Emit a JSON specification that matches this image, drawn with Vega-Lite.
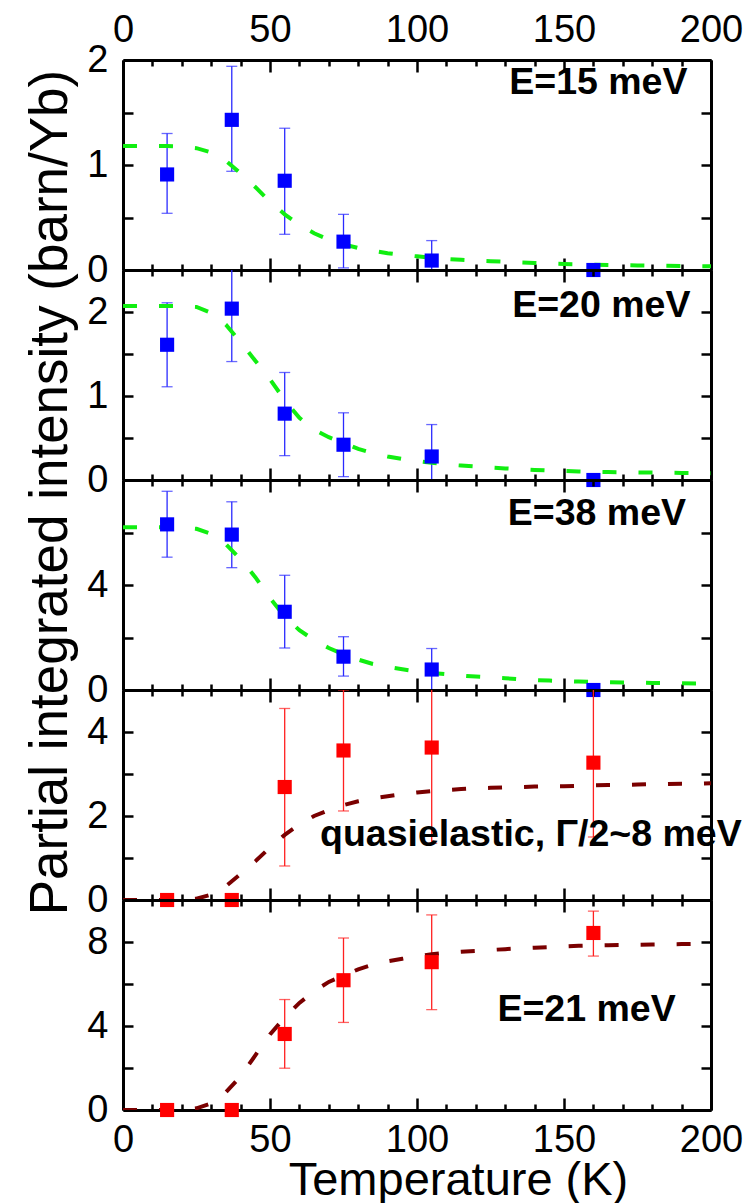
{
"$schema": "https://vega.github.io/schema/vega-lite/v6.json",
"padding": {"left": 23, "top": 5, "right": 0, "bottom": 0},
"spacing": 0,
"bounds": "flush",
"config": {
  "font": "Liberation Sans",
  "view": {"stroke": null},
  "axis": {"domainColor": "black", "domainWidth": 3, "tickColor": "black", "tickWidth": 2.5, "grid": false,
           "labelFontSize": 38, "labelColor": "black", "labelFlush": false, "labelOverlap": false,
           "titleColor": "black", "titleFontWeight": "normal", "labelFont": "Liberation Sans", "titleFont": "Liberation Sans"}
},
"datasets": {
"pts": [
 {"p":1,"T":15,"I":0.91,"lo":0.54,"hi":1.3},{"p":1,"T":37,"I":1.43,"lo":0.94,"hi":1.94},{"p":1,"T":55,"I":0.85,"lo":0.34,"hi":1.35},{"p":1,"T":75,"I":0.27,"lo":0.02,"hi":0.53},{"p":1,"T":105,"I":0.09,"lo":-0.1,"hi":0.28},{"p":1,"T":160,"I":0.0},
 {"p":2,"T":15,"I":1.61,"lo":1.11,"hi":2.11},{"p":2,"T":37,"I":2.04,"lo":1.41,"hi":2.67},{"p":2,"T":55,"I":0.79,"lo":0.29,"hi":1.28},{"p":2,"T":75,"I":0.42,"lo":0.04,"hi":0.8},{"p":2,"T":105,"I":0.28,"lo":-0.11,"hi":0.66},{"p":2,"T":160,"I":0.0},
 {"p":3,"T":15,"I":6.31,"lo":5.06,"hi":7.57},{"p":3,"T":37,"I":5.92,"lo":4.66,"hi":7.17},{"p":3,"T":55,"I":2.98,"lo":1.6,"hi":4.37},{"p":3,"T":75,"I":1.27,"lo":0.53,"hi":2.03},{"p":3,"T":105,"I":0.78,"lo":-0.02,"hi":1.58},{"p":3,"T":160,"I":0.0},
 {"p":4,"T":15,"I":0.0},{"p":4,"T":37,"I":0.0},{"p":4,"T":55,"I":2.69,"lo":0.81,"hi":4.56},{"p":4,"T":75,"I":3.56,"lo":2.12,"hi":5.0},{"p":4,"T":105,"I":3.63,"lo":1.35,"hi":5.9},{"p":4,"T":160,"I":3.27,"lo":1.5,"hi":5.04},
 {"p":5,"T":15,"I":0.0},{"p":5,"T":37,"I":0.0},{"p":5,"T":55,"I":3.62,"lo":1.99,"hi":5.26},{"p":5,"T":75,"I":6.18,"lo":4.17,"hi":8.19},{"p":5,"T":105,"I":7.04,"lo":4.78,"hi":9.29},{"p":5,"T":160,"I":8.43,"lo":7.33,"hi":9.47}
],
"fit": [
 {"p":1,"T":0,"v":1.18},{"p":1,"T":5,"v":1.18},{"p":1,"T":10,"v":1.18},{"p":1,"T":15,"v":1.18},{"p":1,"T":20,"v":1.175},{"p":1,"T":25,"v":1.16},{"p":1,"T":30,"v":1.12},{"p":1,"T":35,"v":1.04},{"p":1,"T":40,"v":0.92},{"p":1,"T":45,"v":0.79},{"p":1,"T":50,"v":0.65},{"p":1,"T":55,"v":0.53},{"p":1,"T":60,"v":0.43},{"p":1,"T":65,"v":0.35},{"p":1,"T":70,"v":0.29},{"p":1,"T":75,"v":0.245},{"p":1,"T":80,"v":0.21},{"p":1,"T":85,"v":0.183},{"p":1,"T":90,"v":0.16},{"p":1,"T":95,"v":0.143},{"p":1,"T":100,"v":0.13},{"p":1,"T":105,"v":0.117},{"p":1,"T":110,"v":0.106},{"p":1,"T":115,"v":0.097},{"p":1,"T":120,"v":0.09},{"p":1,"T":125,"v":0.084},{"p":1,"T":130,"v":0.079},{"p":1,"T":135,"v":0.073},{"p":1,"T":140,"v":0.067},{"p":1,"T":145,"v":0.062},{"p":1,"T":150,"v":0.057},{"p":1,"T":155,"v":0.054},{"p":1,"T":160,"v":0.051},{"p":1,"T":165,"v":0.048},{"p":1,"T":170,"v":0.046},{"p":1,"T":175,"v":0.044},{"p":1,"T":180,"v":0.042},{"p":1,"T":185,"v":0.04},{"p":1,"T":190,"v":0.038},{"p":1,"T":195,"v":0.037},{"p":1,"T":200,"v":0.036},
 {"p":2,"T":0,"v":2.07},{"p":2,"T":5,"v":2.07},{"p":2,"T":10,"v":2.07},{"p":2,"T":15,"v":2.07},{"p":2,"T":20,"v":2.07},{"p":2,"T":25,"v":2.06},{"p":2,"T":30,"v":1.99},{"p":2,"T":35,"v":1.85},{"p":2,"T":40,"v":1.64},{"p":2,"T":45,"v":1.42},{"p":2,"T":50,"v":1.2},{"p":2,"T":55,"v":0.95},{"p":2,"T":60,"v":0.74},{"p":2,"T":65,"v":0.6},{"p":2,"T":70,"v":0.51},{"p":2,"T":75,"v":0.44},{"p":2,"T":80,"v":0.37},{"p":2,"T":85,"v":0.32},{"p":2,"T":90,"v":0.28},{"p":2,"T":95,"v":0.25},{"p":2,"T":100,"v":0.225},{"p":2,"T":105,"v":0.205},{"p":2,"T":110,"v":0.185},{"p":2,"T":115,"v":0.172},{"p":2,"T":120,"v":0.16},{"p":2,"T":125,"v":0.148},{"p":2,"T":130,"v":0.138},{"p":2,"T":135,"v":0.128},{"p":2,"T":140,"v":0.12},{"p":2,"T":145,"v":0.113},{"p":2,"T":150,"v":0.107},{"p":2,"T":155,"v":0.102},{"p":2,"T":160,"v":0.098},{"p":2,"T":165,"v":0.095},{"p":2,"T":170,"v":0.092},{"p":2,"T":175,"v":0.09},{"p":2,"T":180,"v":0.088},{"p":2,"T":185,"v":0.086},{"p":2,"T":190,"v":0.084},{"p":2,"T":195,"v":0.082},{"p":2,"T":200,"v":0.08},
 {"p":3,"T":0,"v":6.2},{"p":3,"T":5,"v":6.2},{"p":3,"T":10,"v":6.2},{"p":3,"T":15,"v":6.2},{"p":3,"T":20,"v":6.19},{"p":3,"T":25,"v":6.14},{"p":3,"T":30,"v":5.95},{"p":3,"T":35,"v":5.55},{"p":3,"T":40,"v":4.98},{"p":3,"T":45,"v":4.3},{"p":3,"T":50,"v":3.5},{"p":3,"T":55,"v":2.8},{"p":3,"T":60,"v":2.28},{"p":3,"T":65,"v":1.9},{"p":3,"T":70,"v":1.6},{"p":3,"T":75,"v":1.36},{"p":3,"T":80,"v":1.16},{"p":3,"T":85,"v":0.99},{"p":3,"T":90,"v":0.88},{"p":3,"T":95,"v":0.79},{"p":3,"T":100,"v":0.71},{"p":3,"T":105,"v":0.65},{"p":3,"T":110,"v":0.6},{"p":3,"T":115,"v":0.55},{"p":3,"T":120,"v":0.51},{"p":3,"T":125,"v":0.48},{"p":3,"T":130,"v":0.45},{"p":3,"T":135,"v":0.41},{"p":3,"T":140,"v":0.38},{"p":3,"T":145,"v":0.36},{"p":3,"T":150,"v":0.34},{"p":3,"T":155,"v":0.32},{"p":3,"T":160,"v":0.31},{"p":3,"T":165,"v":0.3},{"p":3,"T":170,"v":0.29},{"p":3,"T":175,"v":0.28},{"p":3,"T":180,"v":0.27},{"p":3,"T":185,"v":0.265},{"p":3,"T":190,"v":0.26},{"p":3,"T":195,"v":0.25},{"p":3,"T":200,"v":0.24},
 {"p":4,"T":0,"v":0},{"p":4,"T":5,"v":0},{"p":4,"T":10,"v":0},{"p":4,"T":15,"v":0},{"p":4,"T":20,"v":0.01},{"p":4,"T":25,"v":0.03},{"p":4,"T":30,"v":0.13},{"p":4,"T":35,"v":0.33},{"p":4,"T":40,"v":0.62},{"p":4,"T":45,"v":0.92},{"p":4,"T":50,"v":1.25},{"p":4,"T":55,"v":1.55},{"p":4,"T":60,"v":1.8},{"p":4,"T":65,"v":2.0},{"p":4,"T":70,"v":2.14},{"p":4,"T":75,"v":2.26},{"p":4,"T":80,"v":2.35},{"p":4,"T":85,"v":2.42},{"p":4,"T":90,"v":2.47},{"p":4,"T":95,"v":2.52},{"p":4,"T":100,"v":2.56},{"p":4,"T":105,"v":2.59},{"p":4,"T":110,"v":2.62},{"p":4,"T":115,"v":2.64},{"p":4,"T":120,"v":2.66},{"p":4,"T":125,"v":2.67},{"p":4,"T":130,"v":2.68},{"p":4,"T":135,"v":2.69},{"p":4,"T":140,"v":2.7},{"p":4,"T":145,"v":2.71},{"p":4,"T":150,"v":2.71},{"p":4,"T":155,"v":2.72},{"p":4,"T":160,"v":2.73},{"p":4,"T":165,"v":2.74},{"p":4,"T":170,"v":2.74},{"p":4,"T":175,"v":2.75},{"p":4,"T":180,"v":2.76},{"p":4,"T":185,"v":2.76},{"p":4,"T":190,"v":2.77},{"p":4,"T":195,"v":2.77},{"p":4,"T":200,"v":2.78},
 {"p":5,"T":0,"v":0},{"p":5,"T":5,"v":0},{"p":5,"T":10,"v":0},{"p":5,"T":15,"v":0},{"p":5,"T":20,"v":0.01},{"p":5,"T":25,"v":0.08},{"p":5,"T":30,"v":0.32},{"p":5,"T":35,"v":0.85},{"p":5,"T":40,"v":1.6},{"p":5,"T":45,"v":2.6},{"p":5,"T":50,"v":3.6},{"p":5,"T":55,"v":4.4},{"p":5,"T":60,"v":5.1},{"p":5,"T":65,"v":5.65},{"p":5,"T":70,"v":6.1},{"p":5,"T":75,"v":6.4},{"p":5,"T":80,"v":6.7},{"p":5,"T":85,"v":6.92},{"p":5,"T":90,"v":7.08},{"p":5,"T":95,"v":7.2},{"p":5,"T":100,"v":7.32},{"p":5,"T":105,"v":7.42},{"p":5,"T":110,"v":7.49},{"p":5,"T":115,"v":7.54},{"p":5,"T":120,"v":7.58},{"p":5,"T":125,"v":7.62},{"p":5,"T":130,"v":7.66},{"p":5,"T":135,"v":7.7},{"p":5,"T":140,"v":7.73},{"p":5,"T":145,"v":7.76},{"p":5,"T":150,"v":7.79},{"p":5,"T":155,"v":7.82},{"p":5,"T":160,"v":7.84},{"p":5,"T":165,"v":7.85},{"p":5,"T":170,"v":7.86},{"p":5,"T":175,"v":7.87},{"p":5,"T":180,"v":7.88},{"p":5,"T":185,"v":7.89},{"p":5,"T":190,"v":7.9},{"p":5,"T":195,"v":7.91},{"p":5,"T":200,"v":7.92}
]
},
"vconcat": [
{
 "width": 588, "height": 210,
 "layer": [
  {"data": {"name": "pts"}, "transform": [{"filter": "datum.p === 1 && isValid(datum.lo)"}],
   "mark": {"type": "rule", "clip": true, "color": "#2a2aff", "strokeWidth": 1.3},
   "encoding": {
    "x": {"field": "T", "type": "quantitative", "scale": {"domain": [0, 200], "nice": false}, "axis": {"orient": "bottom", "values": [0,10,20,30,40,50,60,70,80,90,100,110,120,130,140,150,160,170,180,190,200], "labels": false, "title": null, "tickSize": {"condition": {"test": "datum.value % 50 === 0", "value": -12}, "value": -6}}},
    "y": {"field": "lo", "type": "quantitative", "scale": {"domain": [0, 2], "nice": false}, "axis": {"orient": "left", "values": [0,0.5,1,1.5,2], "labelExpr": "datum.value % 1 === 0 ? format(datum.value, 'd') : ''", "tickSize": -10, "labelPadding": 25, "title": null}},
    "y2": {"field": "hi"}}},
  {"data": {"name": "pts"}, "transform": [{"filter": "datum.p === 1 && isValid(datum.lo)"}],
   "mark": {"type": "tick", "orient": "horizontal", "clip": true, "color": "#2a2aff", "size": 11, "thickness": 1.3},
   "encoding": {"x": {"field": "T", "type": "quantitative", "axis": null}, "y": {"field": "lo", "type": "quantitative", "axis": null}}},
  {"data": {"name": "pts"}, "transform": [{"filter": "datum.p === 1 && isValid(datum.lo)"}],
   "mark": {"type": "tick", "orient": "horizontal", "clip": true, "color": "#2a2aff", "size": 11, "thickness": 1.3},
   "encoding": {"x": {"field": "T", "type": "quantitative", "axis": null}, "y": {"field": "hi", "type": "quantitative", "axis": null}}},
  {"data": {"name": "fit"}, "transform": [{"filter": "datum.p === 1"}],
   "mark": {"type": "line", "color": "#11ee11", "strokeWidth": 4, "strokeDash": [14, 22], "clip": true},
   "encoding": {"x": {"field": "T", "type": "quantitative", "axis": null}, "y": {"field": "v", "type": "quantitative", "axis": null}}},
  {"data": {"name": "pts"}, "transform": [{"filter": "datum.p === 1"}],
   "mark": {"type": "square", "color": "#0000ff", "size": 200, "opacity": 1, "filled": true},
   "encoding": {
    "x": {"field": "T", "type": "quantitative", "axis": {"orient": "top", "values": [0,10,20,30,40,50,60,70,80,90,100,110,120,130,140,150,160,170,180,190,200], "labelExpr": "datum.value % 50 === 0 ? datum.label : ''", "labelPadding": 23, "title": null, "tickSize": {"condition": {"test": "datum.value % 50 === 0", "value": -12}, "value": -6}}},
    "y": {"field": "I", "type": "quantitative", "axis": {"orient": "right", "values": [0,0.5,1,1.5,2], "labels": false, "tickSize": -10, "title": null}}}},
  {"data": {"values": [{"label": "E=15 meV"}]},
   "mark": {"type": "text", "align": "right", "baseline": "alphabetic", "fontSize": 37.5, "fontWeight": "bold", "font": "Liberation Sans", "color": "black"},
   "encoding": {"x": {"datum": 192, "type": "quantitative", "axis": null}, "y": {"datum": 1.68, "type": "quantitative", "axis": null}, "text": {"field": "label"}}}
 ]
},
{
 "width": 588, "height": 210,
 "layer": [
  {"data": {"name": "pts"}, "transform": [{"filter": "datum.p === 2 && isValid(datum.lo)"}],
   "mark": {"type": "rule", "clip": true, "color": "#2a2aff", "strokeWidth": 1.3},
   "encoding": {
    "x": {"field": "T", "type": "quantitative", "scale": {"domain": [0, 200], "nice": false}, "axis": {"orient": "bottom", "values": [0,10,20,30,40,50,60,70,80,90,100,110,120,130,140,150,160,170,180,190,200], "labels": false, "title": null, "tickSize": {"condition": {"test": "datum.value % 50 === 0", "value": -12}, "value": -6}}},
    "y": {"field": "lo", "type": "quantitative", "scale": {"domain": [0, 2.5], "nice": false}, "axis": {"orient": "left", "values": [0,0.5,1,1.5,2,2.5], "labelExpr": "datum.value % 1 === 0 ? format(datum.value, 'd') : ''", "tickSize": -10, "labelPadding": 25, "title": null}},
    "y2": {"field": "hi"}}},
  {"data": {"name": "pts"}, "transform": [{"filter": "datum.p === 2 && isValid(datum.lo)"}],
   "mark": {"type": "tick", "orient": "horizontal", "clip": true, "color": "#2a2aff", "size": 11, "thickness": 1.3},
   "encoding": {"x": {"field": "T", "type": "quantitative", "axis": null}, "y": {"field": "lo", "type": "quantitative", "axis": null}}},
  {"data": {"name": "pts"}, "transform": [{"filter": "datum.p === 2 && isValid(datum.lo)"}],
   "mark": {"type": "tick", "orient": "horizontal", "clip": true, "color": "#2a2aff", "size": 11, "thickness": 1.3},
   "encoding": {"x": {"field": "T", "type": "quantitative", "axis": null}, "y": {"field": "hi", "type": "quantitative", "axis": null}}},
  {"data": {"name": "fit"}, "transform": [{"filter": "datum.p === 2"}],
   "mark": {"type": "line", "color": "#11ee11", "strokeWidth": 4, "strokeDash": [14, 22], "clip": true},
   "encoding": {"x": {"field": "T", "type": "quantitative", "axis": null}, "y": {"field": "v", "type": "quantitative", "axis": null}}},
  {"data": {"name": "pts"}, "transform": [{"filter": "datum.p === 2"}],
   "mark": {"type": "square", "color": "#0000ff", "size": 200, "opacity": 1, "filled": true},
   "encoding": {
    "x": {"field": "T", "type": "quantitative", "axis": {"orient": "top", "values": [0,10,20,30,40,50,60,70,80,90,100,110,120,130,140,150,160,170,180,190,200], "labels": false, "title": null, "tickSize": {"condition": {"test": "datum.value % 50 === 0", "value": -12}, "value": -6}}},
    "y": {"field": "I", "type": "quantitative", "axis": {"orient": "right", "values": [0,0.5,1,1.5,2,2.5], "labels": false, "tickSize": -10, "title": null}}}},
  {"data": {"values": [{"label": "E=20 meV"}]},
   "mark": {"type": "text", "align": "right", "baseline": "alphabetic", "fontSize": 37.5, "fontWeight": "bold", "font": "Liberation Sans", "color": "black"},
   "encoding": {"x": {"datum": 193, "type": "quantitative", "axis": null}, "y": {"datum": 1.94, "type": "quantitative", "axis": null}, "text": {"field": "label"}}}
 ]
},
{
 "width": 588, "height": 210,
 "layer": [
  {"data": {"name": "pts"}, "transform": [{"filter": "datum.p === 3 && isValid(datum.lo)"}],
   "mark": {"type": "rule", "clip": true, "color": "#2a2aff", "strokeWidth": 1.3},
   "encoding": {
    "x": {"field": "T", "type": "quantitative", "scale": {"domain": [0, 200], "nice": false}, "axis": {"orient": "bottom", "values": [0,10,20,30,40,50,60,70,80,90,100,110,120,130,140,150,160,170,180,190,200], "labels": false, "title": null, "tickSize": {"condition": {"test": "datum.value % 50 === 0", "value": -12}, "value": -6}}},
    "y": {"field": "lo", "type": "quantitative", "scale": {"domain": [0, 8], "nice": false}, "axis": {"orient": "left", "values": [0,2,4,6,8], "labelExpr": "datum.value === 0 || datum.value === 4 ? datum.label : ''", "tickSize": -10, "labelPadding": 25,
      "title": "Partial integrated intensity (barn/Yb)", "titleFontSize": 53, "titleX": -57, "titleY": 12, "titleAlign": "center", "titleBaseline": "alphabetic", "titleAngle": 270}},
    "y2": {"field": "hi"}}},
  {"data": {"name": "pts"}, "transform": [{"filter": "datum.p === 3 && isValid(datum.lo)"}],
   "mark": {"type": "tick", "orient": "horizontal", "clip": true, "color": "#2a2aff", "size": 11, "thickness": 1.3},
   "encoding": {"x": {"field": "T", "type": "quantitative", "axis": null}, "y": {"field": "lo", "type": "quantitative", "axis": null}}},
  {"data": {"name": "pts"}, "transform": [{"filter": "datum.p === 3 && isValid(datum.lo)"}],
   "mark": {"type": "tick", "orient": "horizontal", "clip": true, "color": "#2a2aff", "size": 11, "thickness": 1.3},
   "encoding": {"x": {"field": "T", "type": "quantitative", "axis": null}, "y": {"field": "hi", "type": "quantitative", "axis": null}}},
  {"data": {"name": "fit"}, "transform": [{"filter": "datum.p === 3"}],
   "mark": {"type": "line", "color": "#11ee11", "strokeWidth": 4, "strokeDash": [14, 22], "clip": true},
   "encoding": {"x": {"field": "T", "type": "quantitative", "axis": null}, "y": {"field": "v", "type": "quantitative", "axis": null}}},
  {"data": {"name": "pts"}, "transform": [{"filter": "datum.p === 3"}],
   "mark": {"type": "square", "color": "#0000ff", "size": 200, "opacity": 1, "filled": true},
   "encoding": {
    "x": {"field": "T", "type": "quantitative", "axis": {"orient": "top", "values": [0,10,20,30,40,50,60,70,80,90,100,110,120,130,140,150,160,170,180,190,200], "labels": false, "title": null, "tickSize": {"condition": {"test": "datum.value % 50 === 0", "value": -12}, "value": -6}}},
    "y": {"field": "I", "type": "quantitative", "axis": {"orient": "right", "values": [0,2,4,6,8], "labels": false, "tickSize": -10, "title": null}}}},
  {"data": {"values": [{"label": "E=38 meV"}]},
   "mark": {"type": "text", "align": "right", "baseline": "alphabetic", "fontSize": 37.5, "fontWeight": "bold", "font": "Liberation Sans", "color": "black"},
   "encoding": {"x": {"datum": 191.5, "type": "quantitative", "axis": null}, "y": {"datum": 6.27, "type": "quantitative", "axis": null}, "text": {"field": "label"}}}
 ]
},
{
 "width": 588, "height": 210,
 "layer": [
  {"data": {"name": "pts"}, "transform": [{"filter": "datum.p === 4 && isValid(datum.lo)"}],
   "mark": {"type": "rule", "clip": true, "color": "#ff2020", "strokeWidth": 1.3},
   "encoding": {
    "x": {"field": "T", "type": "quantitative", "scale": {"domain": [0, 200], "nice": false}, "axis": {"orient": "bottom", "values": [0,10,20,30,40,50,60,70,80,90,100,110,120,130,140,150,160,170,180,190,200], "labels": false, "title": null, "tickSize": {"condition": {"test": "datum.value % 50 === 0", "value": -12}, "value": -6}}},
    "y": {"field": "lo", "type": "quantitative", "scale": {"domain": [0, 5], "nice": false}, "axis": {"orient": "left", "values": [0,1,2,3,4,5], "labelExpr": "datum.value % 2 === 0 ? datum.label : ''", "tickSize": -10, "labelPadding": 25, "title": null}},
    "y2": {"field": "hi"}}},
  {"data": {"name": "pts"}, "transform": [{"filter": "datum.p === 4 && isValid(datum.lo)"}],
   "mark": {"type": "tick", "orient": "horizontal", "clip": true, "color": "#ff2020", "size": 11, "thickness": 1.3},
   "encoding": {"x": {"field": "T", "type": "quantitative", "axis": null}, "y": {"field": "lo", "type": "quantitative", "axis": null}}},
  {"data": {"name": "pts"}, "transform": [{"filter": "datum.p === 4 && isValid(datum.lo)"}],
   "mark": {"type": "tick", "orient": "horizontal", "clip": true, "color": "#ff2020", "size": 11, "thickness": 1.3},
   "encoding": {"x": {"field": "T", "type": "quantitative", "axis": null}, "y": {"field": "hi", "type": "quantitative", "axis": null}}},
  {"data": {"name": "fit"}, "transform": [{"filter": "datum.p === 4"}],
   "mark": {"type": "line", "color": "#7a0000", "strokeWidth": 4, "strokeDash": [14, 22], "clip": true},
   "encoding": {"x": {"field": "T", "type": "quantitative", "axis": null}, "y": {"field": "v", "type": "quantitative", "axis": null}}},
  {"data": {"name": "pts"}, "transform": [{"filter": "datum.p === 4"}],
   "mark": {"type": "square", "color": "#ff0000", "size": 200, "opacity": 1, "filled": true},
   "encoding": {
    "x": {"field": "T", "type": "quantitative", "axis": {"orient": "top", "values": [0,10,20,30,40,50,60,70,80,90,100,110,120,130,140,150,160,170,180,190,200], "labels": false, "title": null, "tickSize": {"condition": {"test": "datum.value % 50 === 0", "value": -12}, "value": -6}}},
    "y": {"field": "I", "type": "quantitative", "axis": {"orient": "right", "values": [0,1,2,3,4,5], "labels": false, "tickSize": -10, "title": null}}}},
  {"data": {"values": [{"label": "quasielastic, Γ/2~8 meV"}]},
   "mark": {"type": "text", "align": "left", "baseline": "alphabetic", "fontSize": 37.5, "fontWeight": "bold", "font": "Liberation Sans", "color": "black"},
   "encoding": {"x": {"datum": 67, "type": "quantitative", "axis": null}, "y": {"datum": 1.29, "type": "quantitative", "axis": null}, "text": {"field": "label"}}}
 ]
},
{
 "width": 588, "height": 210,
 "layer": [
  {"data": {"name": "pts"}, "transform": [{"filter": "datum.p === 5 && isValid(datum.lo)"}],
   "mark": {"type": "rule", "clip": true, "color": "#ff2020", "strokeWidth": 1.3},
   "encoding": {
    "x": {"field": "T", "type": "quantitative", "scale": {"domain": [0, 200], "nice": false}, "axis": {"orient": "bottom", "values": [0,10,20,30,40,50,60,70,80,90,100,110,120,130,140,150,160,170,180,190,200], "labelExpr": "datum.value % 50 === 0 ? datum.label : ''", "labelPadding": 23, "tickSize": {"condition": {"test": "datum.value % 50 === 0", "value": -12}, "value": -6},
      "title": "Temperature (K)", "titleFontSize": 47, "titleX": 335, "titleY": 84, "titleAlign": "center", "titleBaseline": "alphabetic"}},
    "y": {"field": "lo", "type": "quantitative", "scale": {"domain": [0, 10], "nice": false}, "axis": {"orient": "left", "values": [0,2,4,6,8,10], "labelExpr": "datum.value === 0 || datum.value === 4 || datum.value === 8 ? datum.label : ''", "tickSize": -10, "labelPadding": 25, "title": null}},
    "y2": {"field": "hi"}}},
  {"data": {"name": "pts"}, "transform": [{"filter": "datum.p === 5 && isValid(datum.lo)"}],
   "mark": {"type": "tick", "orient": "horizontal", "clip": true, "color": "#ff2020", "size": 11, "thickness": 1.3},
   "encoding": {"x": {"field": "T", "type": "quantitative", "axis": null}, "y": {"field": "lo", "type": "quantitative", "axis": null}}},
  {"data": {"name": "pts"}, "transform": [{"filter": "datum.p === 5 && isValid(datum.lo)"}],
   "mark": {"type": "tick", "orient": "horizontal", "clip": true, "color": "#ff2020", "size": 11, "thickness": 1.3},
   "encoding": {"x": {"field": "T", "type": "quantitative", "axis": null}, "y": {"field": "hi", "type": "quantitative", "axis": null}}},
  {"data": {"name": "fit"}, "transform": [{"filter": "datum.p === 5"}],
   "mark": {"type": "line", "color": "#7a0000", "strokeWidth": 4, "strokeDash": [14, 22], "clip": true},
   "encoding": {"x": {"field": "T", "type": "quantitative", "axis": null}, "y": {"field": "v", "type": "quantitative", "axis": null}}},
  {"data": {"name": "pts"}, "transform": [{"filter": "datum.p === 5"}],
   "mark": {"type": "square", "color": "#ff0000", "size": 200, "opacity": 1, "filled": true},
   "encoding": {
    "x": {"field": "T", "type": "quantitative", "axis": {"orient": "top", "values": [0,10,20,30,40,50,60,70,80,90,100,110,120,130,140,150,160,170,180,190,200], "labels": false, "title": null, "tickSize": {"condition": {"test": "datum.value % 50 === 0", "value": -12}, "value": -6}}},
    "y": {"field": "I", "type": "quantitative", "axis": {"orient": "right", "values": [0,2,4,6,8,10], "labels": false, "tickSize": -10, "title": null}}}},
  {"data": {"values": [{"label": "E=21 meV"}]},
   "mark": {"type": "text", "align": "right", "baseline": "alphabetic", "fontSize": 37.5, "fontWeight": "bold", "font": "Liberation Sans", "color": "black"},
   "encoding": {"x": {"datum": 188, "type": "quantitative", "axis": null}, "y": {"datum": 4.22, "type": "quantitative", "axis": null}, "text": {"field": "label"}}}
 ]
}
]
}
